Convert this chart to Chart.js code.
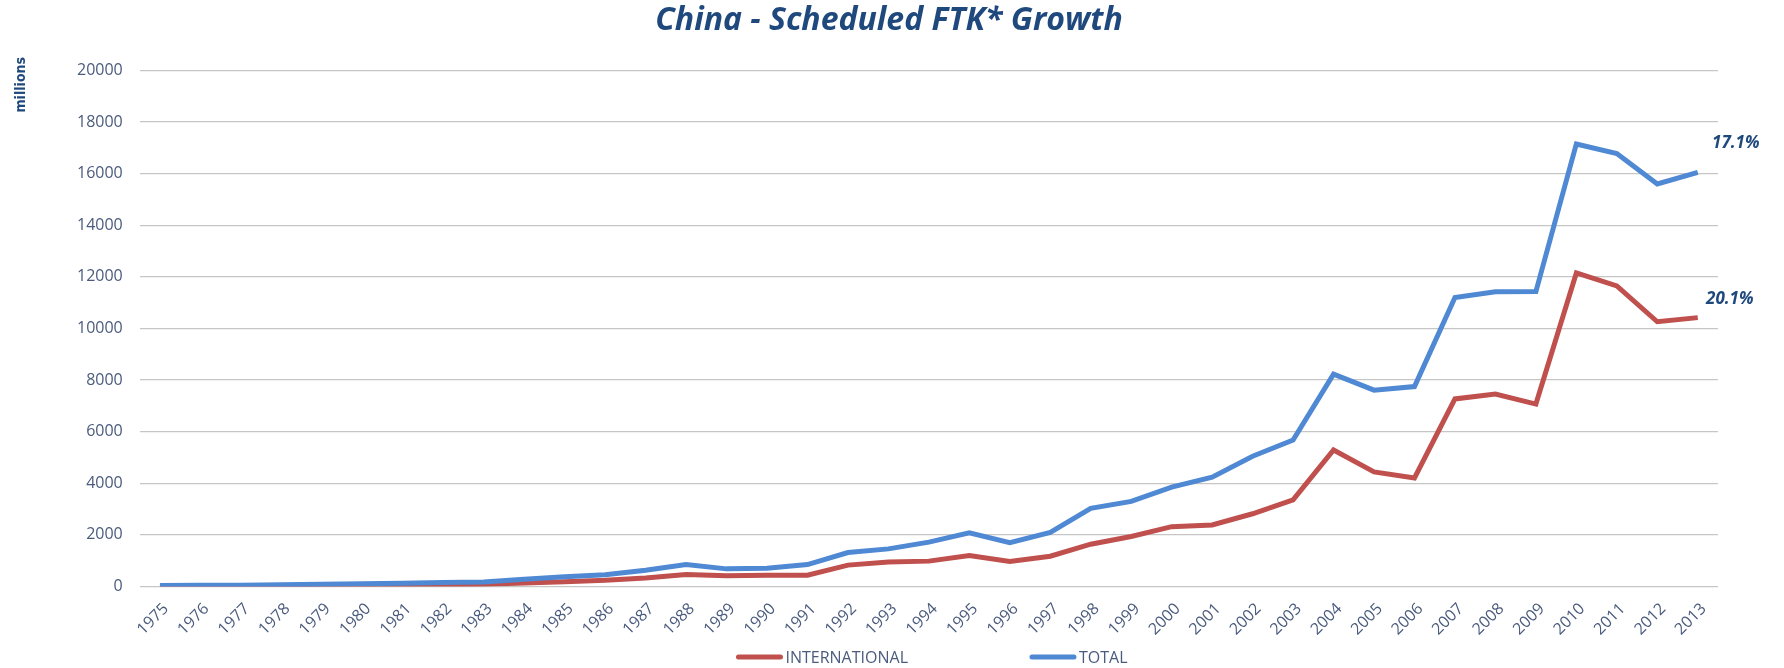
<!DOCTYPE html>
<html>
<head>
<meta charset="utf-8">
<title>China - Scheduled FTK* Growth</title>
<script src="https://cdn.jsdelivr.net/npm/chart.js@4.4.1/dist/chart.umd.min.js"></script>
<style>
  html, body { margin: 0; padding: 0; background: #ffffff; }
  #wrap { width: 1784px; height: 668px; position: relative; }
</style>
</head>
<body>
<div id="wrap"><canvas id="chart"></canvas></div>
<script>
  // values, millions of FTK
  const years = ['1975', '1976', '1977', '1978', '1979', '1980', '1981', '1982', '1983', '1984',
    '1985', '1986', '1987', '1988', '1989', '1990', '1991', '1992', '1993', '1994',
    '1995', '1996', '1997', '1998', '1999', '2000', '2001', '2002', '2003', '2004',
    '2005', '2006', '2007', '2008', '2009', '2010', '2011', '2012', '2013'];

  const international = [10, 15, 20, 25, 35, 45, 55, 70, 90, 140,
    190, 240, 330, 470, 415, 440, 440, 830, 955, 985,
    1200, 970, 1175, 1640, 1940, 2320, 2385, 2820, 3360, 5290,
    4440, 4210, 7270, 7460, 7070, 12150, 11650, 10260, 10420];

  const total = [40, 50, 50, 65, 90, 105, 130, 155, 180, 285,
    375, 455, 635, 855, 685, 710, 850, 1316, 1460, 1720,
    2080, 1700, 2100, 3030, 3300, 3850, 4240, 5050, 5680, 8230,
    7610, 7750, 11200, 11420, 11430, 17150, 16780, 15600, 16050];

  const seriesNames = ['INTERNATIONAL', 'TOTAL'];
  const growthLabels = ['20.1%', '17.1%'];
  const yMax = 20000;
  const yStep = 2000;

  const navy = '#1F497D';
  const tickColor = '#4A5B7D';
  const gridColor = '#C6C6C6';

  // "millions" unit label, top left, reading upwards
  const unitLabel = {
    id: 'unitLabel',
    afterDraw(chart) {
      let ctx = chart.ctx;
      ctx.save();
      ctx.translate(21, 57);
      ctx.rotate(-Math.PI / 2);
      ctx.font = 'bold 14px "Liberation Sans Narrow", "DejaVu Sans Condensed", sans-serif';
      ctx.fillStyle = navy;
      ctx.textAlign = 'right';
      ctx.textBaseline = 'middle';
      ctx.fillText('millions', 0, 0);
      ctx.restore();
    }
  };

  // growth % next to the last point of each line
  const endLabels = {
    id: 'endLabels',
    afterDatasetsDraw(chart) {
      let ctx = chart.ctx;
      let offsets = [[32, -18], [38, -29]];
      ctx.save();
      ctx.font = 'italic bold 17px "Open Sans", sans-serif';
      ctx.fillStyle = navy;
      ctx.textAlign = 'center';
      ctx.textBaseline = 'middle';
      chart.data.datasets.forEach(function(ds, i) {
        let pts = chart.getDatasetMeta(i).data;
        let last = pts[pts.length - 1];
        ctx.fillText(growthLabels[i], last.x + offsets[i][0], last.y + offsets[i][1]);
      });
      ctx.restore();
    }
  };

  // legend at the bottom, Excel style (line sample + label)
  const bottomLegend = {
    id: 'bottomLegend',
    afterDraw(chart) {
      let ctx = chart.ctx;
      let lineLen = 46;
      let textGap = 3;
      let itemGap = 122;
      let y = 657;
      ctx.save();
      ctx.font = '16px "Open Sans", sans-serif';
      let widths = chart.data.datasets.map(ds => lineLen + textGap + ctx.measureText(ds.label).width);
      let full = widths.reduce((a, b) => a + b, 0) + itemGap * (widths.length - 1);
      let x = 932 - full / 2;
      chart.data.datasets.forEach(function(ds, i) {
        ctx.strokeStyle = ds.borderColor;
        ctx.lineWidth = 5;
        ctx.lineCap = 'round';
        ctx.beginPath();
        ctx.moveTo(x + 2, y);
        ctx.lineTo(x + lineLen - 2, y);
        ctx.stroke();
        ctx.fillStyle = tickColor;
        ctx.textAlign = 'left';
        ctx.textBaseline = 'middle';
        ctx.fillText(ds.label, x + lineLen + textGap, y + 1);
        x += widths[i] + itemGap;
      });
      ctx.restore();
    }
  };

  let ctx = document.getElementById('chart').getContext('2d');

  new Chart(ctx, {
    type: 'line',
    data: {
      labels: years,
      datasets: [{
        label: seriesNames[0],
        data: international,
        borderColor: '#C0504D',
        backgroundColor: '#C0504D',
        borderWidth: 5,
        pointRadius: 0,
        tension: 0,
        order: 2
      }, {
        label: seriesNames[1],
        data: total,
        borderColor: '#4F88D3',
        backgroundColor: '#4F88D3',
        borderWidth: 5,
        pointRadius: 0,
        tension: 0,
        order: 1
      }]
    },
    options: {
      responsive: true,
      maintainAspectRatio: false,
      animation: false,
      layout: {
        padding: { left: 60, right: 66, top: 0, bottom: 24 }
      },
      plugins: {
        legend: { display: false },
        tooltip: { enabled: false },
        title: {
          display: true,
          text: 'China - Scheduled FTK* Growth',
          color: navy,
          font: { family: '"Open Sans", sans-serif', size: 32, weight: 'bold', style: 'italic' },
          padding: { top: 2, bottom: 30 }
        }
      },
      scales: {
        x: {
          type: 'category',
          offset: true,
          grid: { display: false },
          border: { display: false },
          ticks: {
            autoSkip: false,
            minRotation: 45,
            maxRotation: 45,
            padding: 5,
            labelOffset: 6,
            color: tickColor,
            font: { family: '"Open Sans", sans-serif', size: 16 }
          }
        },
        y: {
          min: 0,
          max: yMax,
          grid: { color: gridColor, lineWidth: 1.3, drawTicks: false },
          border: { display: false },
          ticks: {
            stepSize: yStep,
            padding: 17,
            color: tickColor,
            format: { useGrouping: false },
            font: { family: '"Open Sans", sans-serif', size: 16 }
          }
        }
      }
    },
    plugins: [unitLabel, endLabels, bottomLegend]
  });
</script>
</body>
</html>
